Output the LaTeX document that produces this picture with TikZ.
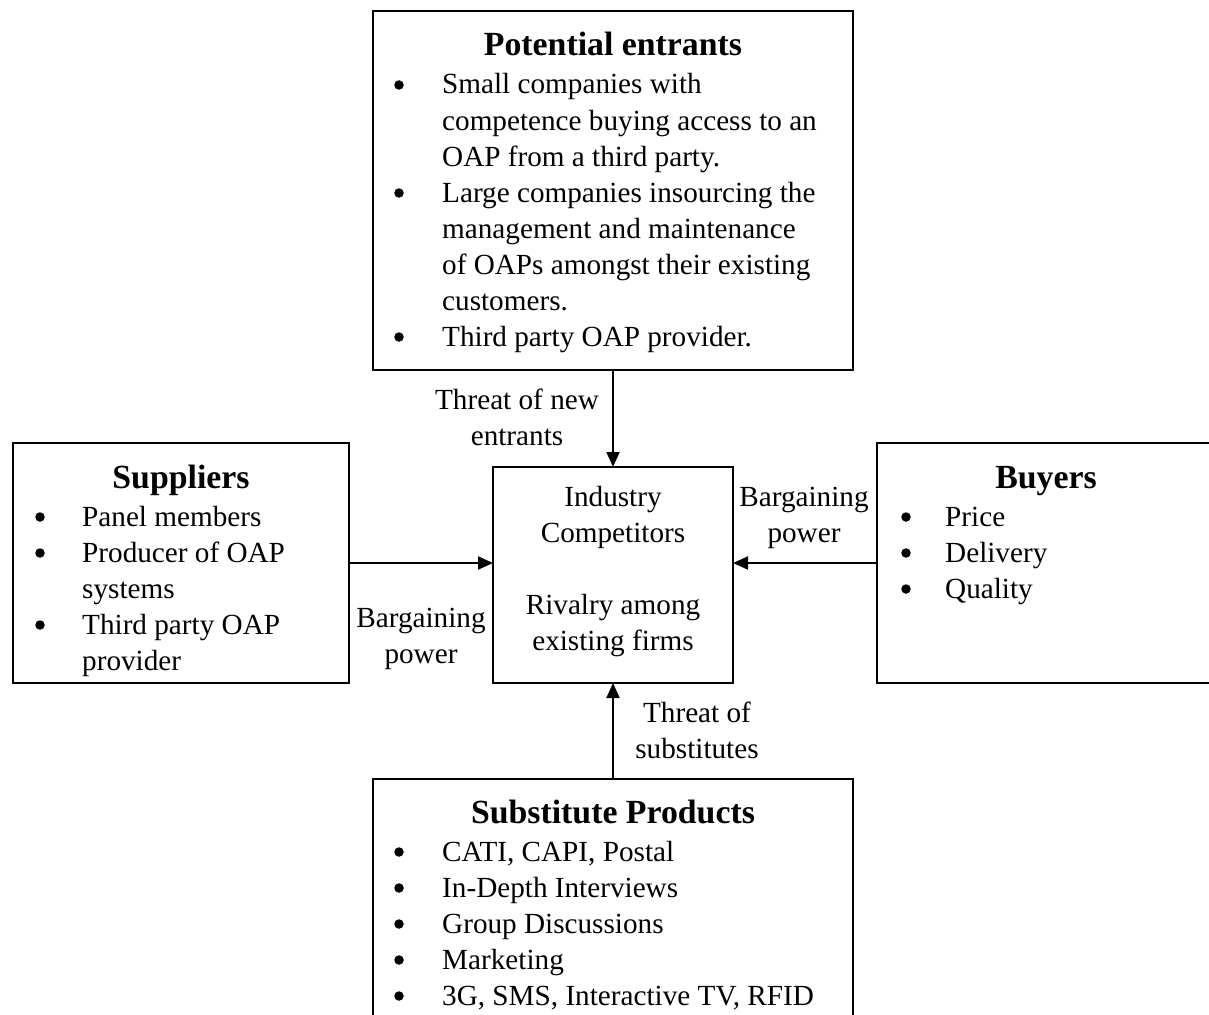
\documentclass[tikz,border=0pt]{standalone}
\usepackage{fontspec}
\setmainfont{Liberation Serif}
\usetikzlibrary{arrows.meta}
\tikzset{
  box/.style={draw, line width=2pt, rectangle, inner sep=0pt, outer sep=0pt, anchor=north west},
  body/.style={inner sep=0pt, font=\fontsize{29.2}{36}\selectfont},
  txt/.style={body, anchor=base west},
  ctxt/.style={body, anchor=base},
  bul/.style={circle, fill, inner sep=0pt, minimum size=9.5pt, yshift=9pt},
  ttl/.style={inner sep=0pt, anchor=base, font=\fontsize{33.8}{38}\selectfont\bfseries},
  arr/.style={line width=2pt, -{Triangle[length=15pt,width=13pt]}}
}
\begin{document}
\begin{tikzpicture}[x=1pt,y=-1pt]
\useasboundingbox (0,0) rectangle (1209,1014);
\clip (0,0) rectangle (1209,1014);
% boxes
\node[box, minimum width=480pt, minimum height=359pt] (pe) at (373,11) {};
\node[box, minimum width=336pt, minimum height=240pt] (su) at (13,443) {};
\node[box, minimum width=240pt, minimum height=216pt] (ic) at (493,467) {};
\node[box, minimum width=338pt, minimum height=240pt] (bu) at (877,443) {};
\node[box, minimum width=480pt, minimum height=260pt] (sp) at (373,779) {};
% potential entrants
\node[ttl] (peT) at (613,56) {Potential entrants};
\node[bul] (peb1) at (399,94) {};
\node[txt] (pe1) at (442,94) {Small companies with};
\node[txt] (pe2) at (442,130) {competence buying access to an};
\node[txt] (pe3) at (442,166) {OAP from a third party.};
\node[bul] (peb2) at (399,202) {};
\node[txt] (pe4) at (442,202) {Large companies insourcing the};
\node[txt] (pe5) at (442,238) {management and maintenance};
\node[txt] (pe6) at (442,274) {of OAPs amongst their existing};
\node[txt] (pe7) at (442,310) {customers.};
\node[bul] (peb3) at (399,346) {};
\node[txt] (pe8) at (442,346) {Third party OAP provider.};
% suppliers
\node[ttl] (suT) at (181,488) {Suppliers};
\node[bul] (sub1) at (40,526) {};
\node[txt] (su1) at (82,526) {Panel members};
\node[bul] (sub2) at (40,562) {};
\node[txt] (su2) at (82,562) {Producer of OAP};
\node[txt] (su3) at (82,598) {systems};
\node[bul] (sub3) at (40,634) {};
\node[txt] (su4) at (82,634) {Third party OAP};
\node[txt] (su5) at (82,670) {provider};
% industry competitors
\node[ctxt] (ic1) at (613,506) {Industry};
\node[ctxt] (ic2) at (613,542) {Competitors};
\node[ctxt] (ic3) at (613,614) {Rivalry among};
\node[ctxt] (ic4) at (613,650) {existing firms};
% buyers
\node[ttl] (buT) at (1046,488) {Buyers};
\node[bul] (bub1) at (906,526) {};
\node[txt] (bu1) at (945,526) {Price};
\node[bul] (bub2) at (906,562) {};
\node[txt] (bu2) at (945,562) {Delivery};
\node[bul] (bub3) at (906,598) {};
\node[txt] (bu3) at (945,598) {Quality};
% substitute products
\node[ttl] (spT) at (613,823) {Substitute Products};
\node[bul] (spb1) at (399,861) {};
\node[txt] (sp1) at (442,861) {CATI, CAPI, Postal};
\node[bul] (spb2) at (399,897) {};
\node[txt] (sp2) at (442,897) {In-Depth Interviews};
\node[bul] (spb3) at (399,933) {};
\node[txt] (sp3) at (442,933) {Group Discussions};
\node[bul] (spb4) at (399,969) {};
\node[txt] (sp4) at (442,969) {Marketing};
\node[bul] (spb5) at (399,1005) {};
\node[txt] (sp5) at (442,1005) {3G, SMS, Interactive TV, RFID};
% connector labels
\node[ctxt] (l1a) at (517,409) {Threat of new};
\node[ctxt] (l1b) at (517,445) {entrants};
\node[ctxt] (l2a) at (421,627) {Bargaining};
\node[ctxt] (l2b) at (421,663) {power};
\node[ctxt] (l3a) at (804,506) {Bargaining};
\node[ctxt] (l3b) at (804,542) {power};
\node[ctxt] (l4a) at (697,722) {Threat of};
\node[ctxt] (l4b) at (697,758) {substitutes};
% connectors
\draw[arr] (pe.south) -- (ic.north);
\draw[arr] (sp.north) -- (ic.south);
\draw[arr] (su.east) -- (su.east -| ic.west);
\draw[arr] (bu.west) -- (bu.west -| ic.east);
\end{tikzpicture}
\end{document}
